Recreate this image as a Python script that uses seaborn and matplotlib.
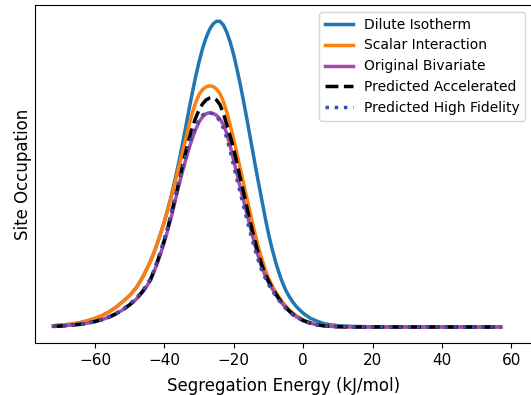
import matplotlib
matplotlib.use("Agg")
import matplotlib.pyplot as plt
import seaborn as sns
import pandas as pd

# Segregation energy grid (kJ/mol), finer where the curves bend most
energy = [-72, -70, -68, -66, -64, -62, -60, -58, -56, -54, -52, -50, -48, -46,
          -44, -43, -42, -41, -40, -39, -38, -37, -36, -35, -34, -33, -32, -31,
          -30, -29, -28, -27, -26, -25, -24, -23, -22, -21, -20, -19, -18, -17,
          -16, -15, -14, -13, -12, -11, -10, -9, -8, -7, -6, -5, -4, -3, -2,
          0, 2, 4, 6, 8, 10, 14, 20, 30, 40, 50, 57]

# Site occupation (arbitrary units) for each model
dilute_isotherm = [
    0.004, 0.006, 0.008, 0.011, 0.015, 0.021, 0.028, 0.037, 0.049, 0.064, 0.083,
    0.103, 0.13, 0.168,
    0.215, 0.243, 0.275, 0.309, 0.345, 0.386, 0.43, 0.478, 0.53, 0.586, 0.645,
    0.705, 0.763, 0.818, 0.867, 0.91, 0.945, 0.972, 0.99, 0.999, 0.999, 0.987,
    0.963, 0.93, 0.888, 0.839, 0.785, 0.727, 0.666, 0.603, 0.54, 0.479, 0.42,
    0.36, 0.305, 0.257, 0.215, 0.178, 0.146, 0.12, 0.099, 0.082, 0.067,
    0.045, 0.029, 0.019, 0.011, 0.007, 0.0045, 0.002, 0.0006, 0.0001, 0.0, 0.0, 0.0]

scalar_interaction = [
    0.004, 0.006, 0.008, 0.011, 0.015, 0.021, 0.028, 0.037, 0.049, 0.064, 0.083,
    0.103, 0.13, 0.168,
    0.215, 0.243, 0.275, 0.309, 0.345, 0.384, 0.425, 0.469, 0.515, 0.561, 0.607,
    0.655, 0.698, 0.733, 0.76, 0.776, 0.785, 0.788, 0.786, 0.778, 0.763, 0.737,
    0.702, 0.659, 0.612, 0.562, 0.511, 0.46, 0.41, 0.36, 0.311, 0.266, 0.226,
    0.19, 0.16, 0.136, 0.116, 0.098, 0.082, 0.068, 0.056, 0.046, 0.037,
    0.023, 0.014, 0.008, 0.005, 0.003, 0.002, 0.0006, 0.0001, 0.0, 0.0, 0.0, 0.0]

original_bivariate = [
    0.002, 0.003, 0.005, 0.007, 0.009, 0.013, 0.018, 0.024, 0.032, 0.043, 0.056,
    0.072, 0.092, 0.118,
    0.152, 0.18, 0.21, 0.243, 0.278, 0.318, 0.36, 0.407, 0.455, 0.499, 0.54,
    0.58, 0.615, 0.645, 0.67, 0.687, 0.697, 0.70, 0.698, 0.692, 0.68, 0.661,
    0.632, 0.59, 0.543, 0.496, 0.45, 0.405, 0.36, 0.315, 0.272, 0.233, 0.198,
    0.17, 0.146, 0.126, 0.108, 0.091, 0.076, 0.063, 0.052, 0.042, 0.034,
    0.021, 0.013, 0.007, 0.004, 0.002, 0.001, 0.0003, 0.0001, 0.0, 0.0, 0.0, 0.0]

predicted_accelerated = [
    0.002, 0.003, 0.005, 0.007, 0.009, 0.013, 0.018, 0.024, 0.032, 0.043, 0.056,
    0.073, 0.093, 0.121,
    0.156, 0.184, 0.215, 0.249, 0.285, 0.326, 0.37, 0.417, 0.465, 0.515, 0.565,
    0.61, 0.65, 0.683, 0.71, 0.729, 0.742, 0.748, 0.749, 0.742, 0.727, 0.698,
    0.661, 0.622, 0.58, 0.531, 0.48, 0.43, 0.38, 0.331, 0.285, 0.243, 0.205,
    0.175, 0.15, 0.129, 0.11, 0.093, 0.077, 0.064, 0.052, 0.042, 0.034,
    0.021, 0.013, 0.007, 0.004, 0.002, 0.001, 0.0003, 0.0001, 0.0, 0.0, 0.0, 0.0]

predicted_high_fidelity = [
    0.002, 0.003, 0.005, 0.007, 0.009, 0.013, 0.018, 0.024, 0.033, 0.044, 0.058,
    0.075, 0.096, 0.123,
    0.158, 0.186, 0.218, 0.251, 0.289, 0.328, 0.373, 0.42, 0.467, 0.51, 0.55,
    0.59, 0.624, 0.655, 0.676, 0.692, 0.70, 0.701, 0.696, 0.688, 0.673, 0.65,
    0.617, 0.573, 0.525, 0.478, 0.432, 0.387, 0.342, 0.298, 0.257, 0.22, 0.187,
    0.161, 0.139, 0.12, 0.103, 0.087, 0.073, 0.06, 0.05, 0.04, 0.033,
    0.02, 0.012, 0.007, 0.004, 0.002, 0.001, 0.0003, 0.0001, 0.0, 0.0, 0.0, 0.0]

labels = ["Dilute Isotherm", "Scalar Interaction", "Original Bivariate",
          "Predicted Accelerated", "Predicted High Fidelity"]

series = [dilute_isotherm, scalar_interaction, original_bivariate,
          predicted_accelerated, predicted_high_fidelity]
colors = ["#1f77b4", "#ff7f0e", "#a74ba8", "#000000", "#3a4fb4"]
styles = ["-", "-", "-", "--", ":"]

plt.rcParams.update({
    "font.family": ["DejaVu Sans"],
    "axes.linewidth": 0.8,
    "axes.edgecolor": "black",
    "xtick.major.size": 3.5,
    "xtick.major.width": 0.8,
})

fig = plt.figure(figsize=(5.31, 3.95), dpi=100)
ax = fig.add_axes([35 / 531, 52 / 395, 497 / 531, 338 / 395])

for name, vals, col, ls in zip(labels, series, colors, styles):
    df = pd.DataFrame({"energy": energy, "occupation": vals})
    sns.lineplot(data=df, x="energy", y="occupation", ax=ax, color=col,
                 linestyle=ls, linewidth=2.5, label=name)

ax.set_xlim(-77.3, 65.96)
ax.set_ylim(-0.0523, 1.0523)
ax.set_yticks([])
ax.set_xticks([-60, -40, -20, 0, 20, 40, 60])
ax.tick_params(axis="x", labelsize=11)
ax.set_xlabel("Segregation Energy (kJ/mol)", fontsize=12, labelpad=7)
ax.set_ylabel("Site Occupation", fontsize=12, labelpad=2)
ax.legend(loc="upper right", fontsize=10)

fig.savefig("out.png", dpi=100)
